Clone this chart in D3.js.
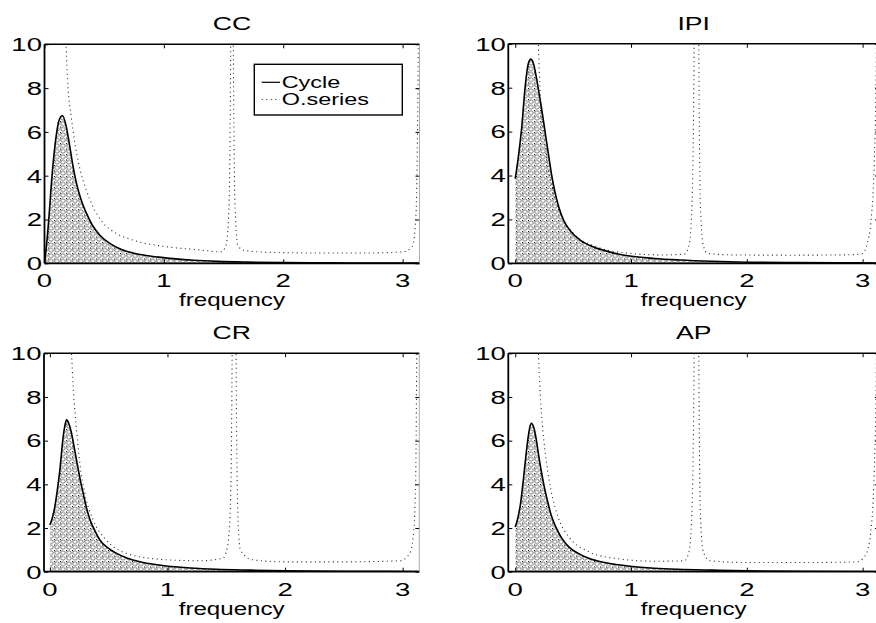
<!DOCTYPE html>
<html><head><meta charset="utf-8">
<script src="https://cdn.jsdelivr.net/npm/d3@7"></script>
<style>body{margin:0;background:#fff} svg{display:block}</style>
</head><body>
<svg id="c" width="876" height="623"></svg>
<script>
const panelTitles = ["CC", "IPI", "CR", "AP"];
const xTicks = [0, 1, 2, 3];
const yTicks = [0, 2, 4, 6, 8, 10];
const legendLabels = ["Cycle", "O.series"];
const xLabel = "frequency";

// CC
const ccCycleFreq = [0, 0.02, 0.04, 0.06, 0.08, 0.10, 0.12, 0.15, 0.18, 0.21, 0.24, 0.27, 0.31, 0.35, 0.40, 0.47, 0.55, 0.65, 0.75, 0.85, 0.96, 1.1, 1.25, 1.45, 1.7, 2.0, 2.4, 2.8, 3.1416];
const ccCycle     = [0, 1.0, 2.3, 3.8, 5.0, 5.9, 6.5, 6.75, 6.3, 5.4, 4.4, 3.6, 2.85, 2.3, 1.75, 1.25, 0.9, 0.62, 0.46, 0.36, 0.28, 0.2, 0.14, 0.09, 0.055, 0.03, 0.018, 0.012, 0.008];
const ccSeriesFreq = [0.16, 0.181, 0.195, 0.224, 0.251, 0.293, 0.35, 0.405, 0.49, 0.6, 0.74, 1.02, 1.3, 1.48, 1.52, 1.545, 1.56, 1.571, 1.582, 1.597, 1.62, 1.68, 1.9, 2.3, 2.7, 3.0, 3.08, 3.11, 3.125, 3.135, 3.1416];
const ccSeries     = [14, 9.9, 8.2, 6.7, 5.6, 4.4, 3.35, 2.6, 1.85, 1.37, 1.06, 0.76, 0.61, 0.52, 0.8, 2.5, 10, 40, 10, 2.5, 0.8, 0.58, 0.5, 0.47, 0.47, 0.52, 0.75, 2, 6, 15, 40];

// IPI
const ipiCycleFreq = [0, 0.027, 0.056, 0.085, 0.113, 0.135, 0.16, 0.185, 0.21, 0.235, 0.26, 0.286, 0.315, 0.345, 0.38, 0.417, 0.48, 0.56, 0.66, 0.76, 0.87, 0.99, 1.2, 1.42, 1.7, 2.0, 2.4, 2.8, 3.1416];
const ipiCycle     = [3.86, 4.85, 6.2, 8.0, 9.1, 9.3, 9.05, 8.4, 7.6, 6.8, 5.9, 5.0, 4.0, 3.2, 2.5, 1.97, 1.45, 1.06, 0.78, 0.6, 0.45, 0.33, 0.22, 0.15, 0.09, 0.05, 0.03, 0.02, 0.015];
const ipiSeriesFreq = [0.19, 0.2, 0.216, 0.245, 0.273, 0.316, 0.388, 0.503, 0.705, 0.99, 1.28, 1.46, 1.5, 1.525, 1.545, 1.565, 1.585, 1.6, 1.625, 1.66, 1.9, 2.4, 2.9, 3.0, 3.04, 3.07, 3.1, 3.12, 3.1416];
const ipiSeries     = [12, 10, 7.7, 5.9, 4.7, 3.5, 2.27, 1.36, 0.75, 0.45, 0.38, 0.42, 0.8, 2.5, 10, 40, 10, 2.5, 0.8, 0.45, 0.38, 0.37, 0.39, 0.45, 0.9, 1.8, 4.5, 10, 40];

// CR
const crCycleFreq = [0, 0.02, 0.043, 0.065, 0.085, 0.1, 0.113, 0.128, 0.142, 0.16, 0.184, 0.205, 0.227, 0.255, 0.283, 0.31, 0.34, 0.38, 0.425, 0.49, 0.567, 0.66, 0.765, 0.87, 0.99, 1.2, 1.415, 1.7, 2.0, 2.5, 3.1416];
const crCycle     = [2.14, 2.45, 3.0, 3.8, 4.66, 5.5, 6.18, 6.7, 6.95, 6.8, 6.34, 5.75, 5.1, 4.3, 3.6, 2.95, 2.4, 1.9, 1.45, 1.1, 0.84, 0.62, 0.46, 0.35, 0.26, 0.17, 0.11, 0.07, 0.04, 0.02, 0.01];
const crSeriesFreq = [0.175, 0.184, 0.198, 0.227, 0.255, 0.297, 0.368, 0.48, 0.65, 0.933, 1.27, 1.47, 1.51, 1.535, 1.55, 1.567, 1.583, 1.6, 1.62, 1.72, 2.0, 2.5, 2.98, 3.06, 3.09, 3.11, 3.12, 3.1416];
const crSeries     = [11, 10, 8.47, 6.49, 4.96, 3.59, 2.37, 1.45, 0.84, 0.57, 0.5, 0.61, 1.14, 3, 10, 40, 10, 2.4, 1.0, 0.55, 0.45, 0.45, 0.5, 0.84, 1.6, 4, 10, 40];

// AP
const apCycleFreq = [0, 0.02, 0.045, 0.07, 0.09, 0.11, 0.125, 0.14, 0.16, 0.18, 0.2, 0.225, 0.25, 0.28, 0.31, 0.35, 0.4, 0.46, 0.54, 0.64, 0.75, 0.87, 0.99, 1.2, 1.4, 1.7, 2.0, 2.5, 3.1416];
const apCycle     = [2.05, 2.4, 3.1, 4.2, 5.2, 6.1, 6.6, 6.8, 6.6, 6.1, 5.4, 4.6, 3.9, 3.2, 2.6, 2.05, 1.55, 1.15, 0.85, 0.6, 0.44, 0.33, 0.25, 0.16, 0.11, 0.07, 0.04, 0.02, 0.01];
const apSeriesFreq = [0.19, 0.2, 0.215, 0.24, 0.27, 0.31, 0.37, 0.47, 0.62, 0.85, 1.2, 1.46, 1.5, 1.525, 1.545, 1.565, 1.585, 1.6, 1.625, 1.68, 2.0, 2.5, 2.95, 3.03, 3.07, 3.1, 3.12, 3.1416];
const apSeries     = [11, 10, 8.2, 6.4, 5.0, 3.7, 2.5, 1.55, 0.95, 0.62, 0.48, 0.5, 0.9, 2.6, 10, 40, 10, 2.5, 0.9, 0.5, 0.42, 0.42, 0.45, 0.8, 1.8, 4.5, 10, 40];

const panels = [
  {title: panelTitles[0], cf: ccCycleFreq, cv: ccCycle, sf: ccSeriesFreq, sv: ccSeries, L: 44.5, R: 419.5, T: 44.3, B: 263.3, x0: 0, legend: true},
  {title: panelTitles[1], cf: ipiCycleFreq, cv: ipiCycle, sf: ipiSeriesFreq, sv: ipiSeries, L: 508.3, R: 879, T: 43.8, B: 263.3, x0: -0.06},
  {title: panelTitles[2], cf: crCycleFreq, cv: crCycle, sf: crSeriesFreq, sv: crSeries, L: 44, R: 419.3, T: 353.3, B: 571.7, x0: -0.05},
  {title: panelTitles[3], cf: apCycleFreq, cv: apCycle, sf: apSeriesFreq, sv: apSeries, L: 508.3, R: 879, T: 353.3, B: 571.7, x0: -0.06}
];

const FONT = "'Liberation Sans', Arial, Helvetica, sans-serif";
const svg = d3.select("#c");
const defs = svg.append("defs");
const pat = defs.append("pattern").attr("id", "hatch").attr("patternUnits", "userSpaceOnUse")
  .attr("width", 6).attr("height", 5.5);
pat.append("ellipse").attr("cx", 3).attr("cy", 2.75).attr("rx", 2.3).attr("ry", 1.9)
  .attr("fill", "none").attr("stroke", "#5a5a5a").attr("stroke-width", 0.8);
pat.append("rect").attr("x", 0).attr("y", 0).attr("width", 1.1).attr("height", 1.1).attr("fill", "#111");

panels.forEach((p, i) => {
  const x = d3.scaleLinear().domain([p.x0, Math.PI]).range([p.L, p.R]);
  const y = d3.scaleLinear().domain([0, 10]).range([p.B, p.T]);
  const g = svg.append("g");
  const cid = "clip" + i;
  defs.append("clipPath").attr("id", cid).append("rect")
    .attr("x", p.L).attr("y", p.T).attr("width", p.R - p.L).attr("height", p.B - p.T);

  const cyc = p.cf.map((f, k) => [f, p.cv[k]]);
  const ser = p.sf.map((f, k) => [f, p.sv[k]]);
  const plot = g.append("g").attr("clip-path", `url(#${cid})`);

  plot.append("path").datum(cyc)
    .attr("d", d3.area().x(d => x(d[0])).y0(y(0)).y1(d => y(d[1])).curve(d3.curveMonotoneX))
    .attr("fill", "url(#hatch)").attr("stroke", "none");
  plot.append("path").datum(ser)
    .attr("d", d3.line().x(d => x(d[0])).y(d => y(d[1])).curve(d3.curveMonotoneX))
    .attr("fill", "none").attr("stroke", "#333").attr("stroke-width", 1.1)
    .attr("stroke-dasharray", "1.1,3.4");
  plot.append("path").datum(cyc)
    .attr("d", d3.line().x(d => x(d[0])).y(d => y(d[1])).curve(d3.curveMonotoneX))
    .attr("fill", "none").attr("stroke", "#000").attr("stroke-width", 1.6);

  // inward ticks on all four sides
  const tk = 4;
  const styleAxis = a => { a.select(".domain").remove(); a.selectAll("line").attr("stroke", "#000").attr("stroke-width", 1); };
  g.append("g").attr("transform", `translate(0,${p.B})`)
    .call(d3.axisBottom(x).tickValues(xTicks).tickSize(-tk).tickFormat("")).call(styleAxis);
  g.append("g").attr("transform", `translate(0,${p.T})`)
    .call(d3.axisTop(x).tickValues(xTicks).tickSize(-tk).tickFormat("")).call(styleAxis);
  g.append("g").attr("transform", `translate(${p.L},0)`)
    .call(d3.axisLeft(y).tickValues(yTicks).tickSize(-tk).tickFormat("")).call(styleAxis);
  g.append("g").attr("transform", `translate(${p.R},0)`)
    .call(d3.axisRight(y).tickValues(yTicks).tickSize(-tk).tickFormat("")).call(styleAxis);

  // box
  g.append("line").attr("x1", p.L).attr("x2", p.R).attr("y1", p.B).attr("y2", p.B).attr("stroke", "#000").attr("stroke-width", 1.8);
  g.append("line").attr("x1", p.L).attr("x2", p.R).attr("y1", p.T).attr("y2", p.T).attr("stroke", "#000").attr("stroke-width", 1.5);
  g.append("line").attr("x1", p.L).attr("x2", p.L).attr("y1", p.T).attr("y2", p.B).attr("stroke", "#000").attr("stroke-width", 1.8);
  g.append("line").attr("x1", p.R).attr("x2", p.R).attr("y1", p.T).attr("y2", p.B).attr("stroke", "#999").attr("stroke-width", 0.8);

  // tick labels
  xTicks.forEach(t => {
    g.append("text").attr("transform", `translate(${x(t)},${p.B + 24}) scale(1.45,1)`)
      .attr("text-anchor", "middle").attr("font-family", FONT).attr("font-size", 19).text(t);
  });
  yTicks.forEach(t => {
    g.append("text").attr("transform", `translate(${p.L - 2.5},${y(t) + 6.8}) scale(1.45,1)`)
      .attr("text-anchor", "end").attr("font-family", FONT).attr("font-size", 19).text(t);
  });
  g.append("text").attr("transform", `translate(${(p.L + p.R) / 2},${p.T - 14}) scale(1.4,1)`)
    .attr("text-anchor", "middle").attr("font-family", FONT).attr("font-size", 19).text(p.title);
  g.append("text").attr("transform", `translate(${(p.L + p.R) / 2},${p.B + 43}) scale(1.27,1)`)
    .attr("text-anchor", "middle").attr("font-family", FONT).attr("font-size", 19).text(xLabel);

  if (p.legend) {
    const lg = g.append("g");
    lg.append("rect").attr("x", 254.3).attr("y", 64.3).attr("width", 148).attr("height", 50.7)
      .attr("fill", "#fff").attr("stroke", "#000").attr("stroke-width", 1.4);
    const rows = [{y: 82.3, dash: null, stroke: "#000", w: 1.2}, {y: 99.5, dash: "1.1,3.4", stroke: "#333", w: 1.1}];
    legendLabels.forEach((lab, k) => {
      const r = rows[k];
      const ln = lg.append("line").attr("x1", 261.7).attr("x2", 280).attr("y1", r.y).attr("y2", r.y)
        .attr("stroke", r.stroke).attr("stroke-width", r.w);
      if (r.dash) ln.attr("stroke-dasharray", r.dash);
      lg.append("text").attr("transform", `translate(281.7,${r.y + 5.8}) scale(1.42,1)`)
        .attr("font-family", FONT).attr("font-size", 16.5).text(lab);
    });
  }
});
</script>
</body></html>
